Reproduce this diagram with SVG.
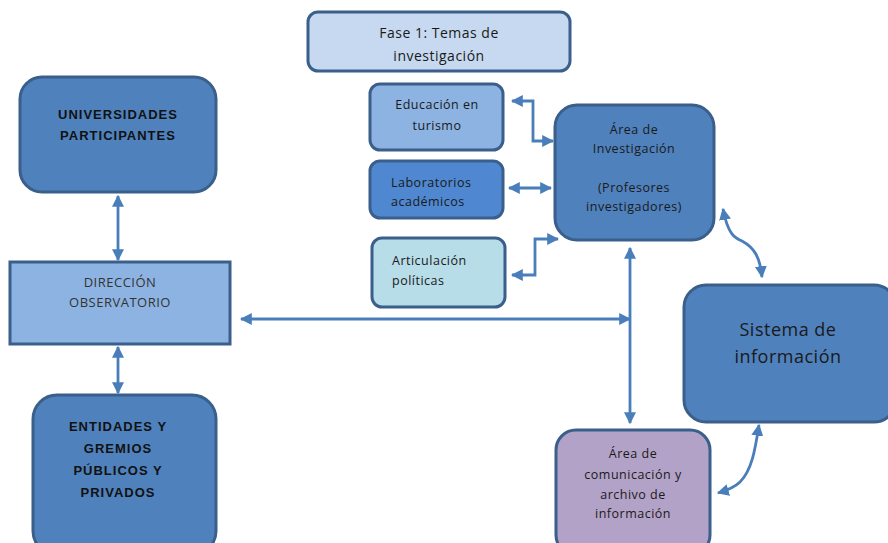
<svg xmlns="http://www.w3.org/2000/svg" width="888" height="543" viewBox="0 0 888 543">
<defs>
<marker id="ah" viewBox="0 0 10 10" refX="9" refY="5" markerWidth="12" markerHeight="12" markerUnits="userSpaceOnUse" orient="auto-start-reverse">
<path d="M0,0 L10,5 L0,10 z" fill="#4a7ebb"/>
</marker>
<style>
.n{stroke:#3a5f8b;stroke-width:3}
.c{fill:none;stroke:#4a7ebb;stroke-width:2.8;marker-start:url(#ah);marker-end:url(#ah)}
.t{font-family:"Open Sans","Liberation Sans",sans-serif;font-size:12.5px;fill:#1a1a1a;letter-spacing:0.5px}
.b{font-family:"Liberation Sans",Arial,sans-serif;font-size:13px;font-weight:bold;fill:#111;letter-spacing:1px}
</style>
</defs>
<rect width="888" height="543" fill="#fff"/>
<g id="connectors">
<path class="c" d="M118,196 L118,260"/>
<path class="c" d="M118,347 L118,393"/>
<path class="c" d="M241,319 L630,319"/>
<path class="c" d="M630,248 L630,423"/>
<path class="c" d="M512,101 L533,101 L533,141 L553,141"/>
<path class="c" d="M509,188 L551,188"/>
<path class="c" d="M512,275 L535,275 L535,239 L558,239"/>
<path class="c" d="M723,209 C728,235 735,238 742,241 C755,248 760,258 762,277"/>
<path class="c" d="M759,425 C755,450 752,470 740,482 C735,487 728,490 718,493"/>
</g>
<g id="fase1">
<rect class="n" x="308" y="12" width="262" height="59" rx="10" fill="#c6d9f0"/>
<text class="t" text-anchor="middle" x="439" y="38" style="font-size:14px">Fase 1: Temas de</text>
<text class="t" text-anchor="middle" x="439" y="61" style="font-size:14px">investigación</text>
</g>
<g id="educacion">
<rect class="n" x="370" y="84" width="133" height="66" rx="10" fill="#8db3e2"/>
<text class="t" text-anchor="middle" x="437" y="109">Educación en</text>
<text class="t" text-anchor="middle" x="437" y="130">turismo</text>
</g>
<g id="laboratorios">
<rect class="n" x="370" y="161" width="133" height="57" rx="10" fill="#4f88d0"/>
<text class="t" x="391" y="187">Laboratorios</text>
<text class="t" x="391" y="206">académicos</text>
</g>
<g id="articulacion">
<rect class="n" x="372" y="238" width="133" height="69" rx="10" fill="#b7dde8"/>
<text class="t" x="392" y="265">Articulación</text>
<text class="t" x="392" y="285">políticas</text>
</g>
<g id="area-investigacion">
<rect class="n" x="555" y="105" width="159" height="135" rx="22" fill="#4f81bd"/>
<text class="t" text-anchor="middle" x="634" y="134">Área de</text>
<text class="t" text-anchor="middle" x="634" y="153">Investigación</text>
<text class="t" text-anchor="middle" x="634" y="192">(Profesores</text>
<text class="t" text-anchor="middle" x="634" y="211">investigadores)</text>
</g>
<g id="sistema">
<rect class="n" x="684" y="285" width="212" height="137" rx="22" fill="#4f81bd"/>
<text class="t" text-anchor="middle" x="788" y="336" style="font-size:18px">Sistema de</text>
<text class="t" text-anchor="middle" x="788" y="363" style="font-size:18px">información</text>
</g>
<g id="area-comunicacion">
<rect class="n" x="556" y="430" width="154" height="125" rx="20" fill="#b3a2c7"/>
<text class="t" text-anchor="middle" x="633" y="458">Área de</text>
<text class="t" text-anchor="middle" x="633" y="479">comunicación y</text>
<text class="t" text-anchor="middle" x="633" y="499">archivo de</text>
<text class="t" text-anchor="middle" x="633" y="518">información</text>
</g>
<g id="universidades">
<rect class="n" x="20" y="77" width="196" height="115" rx="22" fill="#4f81bd"/>
<text class="b" text-anchor="middle" x="118" y="119">UNIVERSIDADES</text>
<text class="b" text-anchor="middle" x="118" y="140">PARTICIPANTES</text>
</g>
<g id="direccion">
<rect class="n" x="10" y="262" width="220" height="82" fill="#8db3e2"/>
<text class="t" text-anchor="middle" x="120" y="287" style="font-size:13px;fill:#333">DIRECCIÓN</text>
<text class="t" text-anchor="middle" x="120" y="307" style="font-size:13px;fill:#333">OBSERVATORIO</text>
</g>
<g id="entidades">
<rect class="n" x="33" y="395" width="183" height="160" rx="24" fill="#4f81bd"/>
<text class="b" text-anchor="middle" x="118" y="431">ENTIDADES Y</text>
<text class="b" text-anchor="middle" x="118" y="453">GREMIOS</text>
<text class="b" text-anchor="middle" x="118" y="475">PÚBLICOS Y</text>
<text class="b" text-anchor="middle" x="118" y="497">PRIVADOS</text>
</g>
</svg>
